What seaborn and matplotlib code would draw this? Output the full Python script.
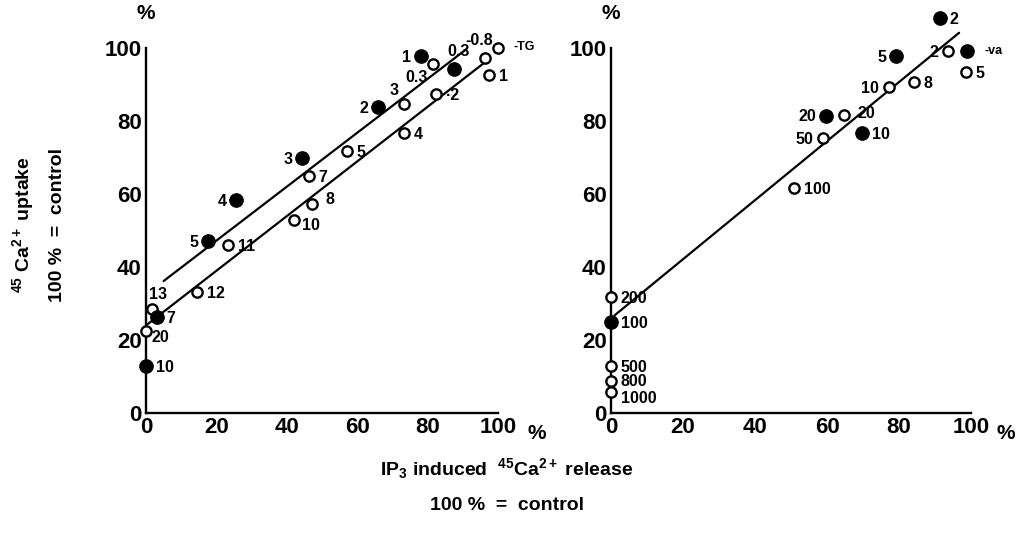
import matplotlib
matplotlib.use("Agg")
import matplotlib.pyplot as plt
import seaborn as sns
import pandas as pd

# left panel: thapsigargin (TG)
tg_fill_x = [78, 87.5, 66, 44.3, 25.6, 17.6, 3.1, 0]
tg_fill_y = [98, 94.5, 84, 70, 58.3, 47.2, 26.4, 12.8]
tg_fill_lab = ["1", "0.3", "2", "3", "4", "5", "7", "10"]

tg_open_x = [100, 96.3, 97.4, 82.4, 81.5, 73.3, 73.3, 57.1, 46.3, 47.1, 42, 23.3, 14.5, 1.7, 0]
tg_open_y = [100, 97.5, 92.8, 87.5, 95.8, 84.7, 76.9, 71.9, 65, 57.3, 53, 46, 33.3, 28.6, 22.5]
tg_open_lab = ["-TG", "-0.8", "1", "·2", "0.3", "3", "4", "5", "7", "8", "10", "11", "12", "13", "20"]

tg_upper_x = [5, 91]
tg_upper_y = [36.2, 99.8]
tg_lower_x = [0.5, 96]
tg_lower_y = [24.4, 96]

# right panel: vanadate (va)
va_fill_x = [91.4, 99, 79.2, 59.7, 69.7, 0]
va_fill_y = [108.4, 99.4, 97.8, 81.6, 76.8, 24.9]
va_fill_lab = ["2", "-va", "5", "20", "10", "100"]

va_open_x = [93.6, 98.6, 77.2, 84.2, 64.7, 58.9, 50.8, 0, 0, 0, 0]
va_open_y = [99.4, 93.6, 89.4, 90.8, 81.8, 75.4, 61.7, 31.8, 12.9, 8.9, 5.9]
va_open_lab = ["2", "5", "10", "8", "20", "50", "100", "200", "500", "800", "1000"]

va_line_x = [1, 96.7]
va_line_y = [26.8, 104.3]

ticks = [0, 20, 40, 60, 80, 100]

# label placement (offset points, ha)
R, L = (7, -1, "left"), (-7, -1, "right")
tg_fill_off = [L, (3, 12, "center"), L, L, L, L, R, R]
tg_open_off = [(11, 1, "left"), (-4, 12, "center"), R, R, (-4, -10, "right"), (-4, 10, "right"),
               R, R, R, (10, 3, "left"), (6, -4, "left"), R, R, (4, 10, "center"), (4, -5, "left")]
va_fill_off = [R, (12, 0, "left"), L, L, R, R]
va_open_off = [L, R, L, R, (10, 1, "left"), L, R, R, R, R, (7, -5, "left")]

sns.set_theme(style="white")
plt.rcParams["font.family"] = ["Liberation Sans", "DejaVu Sans"]
plt.rcParams["font.weight"] = "bold"
plt.rcParams["text.color"] = "black"
plt.rcParams["mathtext.fontset"] = "custom"
plt.rcParams["mathtext.rm"] = "Liberation Sans:bold"
plt.rcParams["mathtext.it"] = "Liberation Sans:bold"
plt.rcParams["mathtext.bf"] = "Liberation Sans:bold"
plt.rcParams["mathtext.default"] = "rm"

fig = plt.figure(figsize=(10.16, 5.33), dpi=100)
ax1 = fig.add_axes([0.1437, 0.2251, 0.3465, 0.7524])
ax2 = fig.add_axes([0.6014, 0.2251, 0.3543, 0.7524])


def panel(ax, fx, fy, flab, foff, ox, oy, olab, ooff, lines, pct_x):
    for lx, ly in lines:
        sns.lineplot(x=lx, y=ly, ax=ax, color="black", lw=1.6, sort=False)
    sns.scatterplot(data=pd.DataFrame({"x": ox, "y": oy}), x="x", y="y", ax=ax,
                    facecolor="white", edgecolor="black", linewidth=1.7, s=55,
                    clip_on=False, zorder=4)
    sns.scatterplot(data=pd.DataFrame({"x": fx, "y": fy}), x="x", y="y", ax=ax,
                    color="black", edgecolor="black", s=95, clip_on=False, zorder=5)
    for x, y, t, (dx, dy, ha) in list(zip(fx, fy, flab, foff)) + list(zip(ox, oy, olab, ooff)):
        size = 9 if t in ("-TG", "-va") else 11.5
        ax.annotate(t, (x, y), xytext=(dx, dy), textcoords="offset points",
                    ha=ha, va="center", fontsize=size, fontweight="bold", color="black")
    ax.set_xlim(0, 100)
    ax.set_ylim(0, 110)
    ax.set_xticks(ticks)
    ax.set_yticks(ticks)
    ax.set_xlabel("")
    ax.set_ylabel("")
    for s in ["top", "right"]:
        ax.spines[s].set_visible(False)
    for s in ["left", "bottom"]:
        ax.spines[s].set_linewidth(1.7)
        ax.spines[s].set_color("black")
    ax.spines["left"].set_bounds(0, 100)
    ax.tick_params(direction="in", length=5, width=1.7, colors="black",
                   labelsize=16, pad=3)
    for lbl in ax.get_xticklabels() + ax.get_yticklabels():
        lbl.set_fontweight("bold")
    ax.text(0, 109.5, "%", ha="center", va="center", fontsize=15, fontweight="bold", clip_on=False)
    ax.text(pct_x, -5.5, "%", ha="center", va="center", fontsize=15, fontweight="bold", clip_on=False)


panel(ax1, tg_fill_x, tg_fill_y, tg_fill_lab, tg_fill_off,
      tg_open_x, tg_open_y, tg_open_lab, tg_open_off,
      [(tg_upper_x, tg_upper_y), (tg_lower_x, tg_lower_y)], 111)
panel(ax2, va_fill_x, va_fill_y, va_fill_lab, va_fill_off,
      va_open_x, va_open_y, va_open_lab, va_open_off,
      [(va_line_x, va_line_y)], 109.6)

fig.text(0.023, 0.578, "$^{45}$ Ca$^{2+}$ uptake", rotation=90, ha="center", va="center",
         fontsize=14, fontweight="bold")
fig.text(0.057, 0.578, "100 %  =  control", rotation=90, ha="center", va="center",
         fontsize=14, fontweight="bold")
fig.text(0.499, 0.12, "IP$_3$ induced  $^{45}$Ca$^{2+}$ release", ha="center", va="center",
         fontsize=14, fontweight="bold")
fig.text(0.499, 0.052, "100 %  =  control", ha="center", va="center",
         fontsize=14, fontweight="bold")

fig.savefig("out.png", dpi=100)
